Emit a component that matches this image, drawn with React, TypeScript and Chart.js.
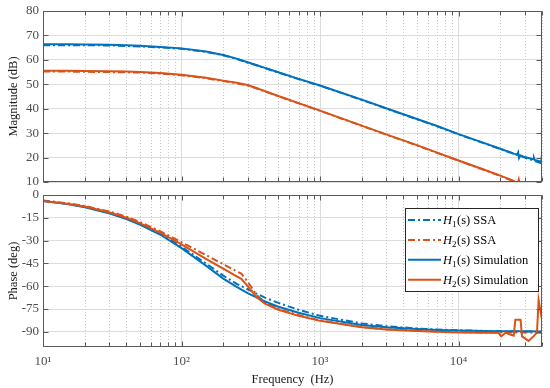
import React, { useEffect, useRef } from "react";
import { Chart, registerables } from "chart.js";

Chart.register(...registerables);

// ---------------- data ----------------
const FREQ = [10, 15, 20, 30, 40, 50, 70, 100, 150, 200, 250, 300, 350, 400, 500, 700, 1000, 2000, 3000, 5000, 7000, 10000, 15000, 20000];

// Magnitude (dB)
const magH1SimFreq = [...FREQ, 25000, 26500, 26900, 27300, 27900, 30000, 34500, 35000, 35500, 39500, 40000];
const magH1Sim = [66.4, 66.4, 66.3, 66.2, 66.0, 65.8, 65.3, 64.7, 63.4, 62.0, 60.5, 59.0, 57.8, 56.7, 54.9, 52.2, 49.5, 43.7, 40.2, 35.8, 32.9, 29.6, 26.1, 23.6, 21.6, 21.2, 22.1, 19.8, 20.9, 20.2, 19.3, 19.9, 19.0, 18.3, 21.5];
const magH2SimFreq = [...FREQ, 25000, 25700, 26800, 27200, 27600, 30000, 35000, 40000];
const magH2Sim = [55.5, 55.5, 55.4, 55.3, 55.2, 55.0, 54.6, 53.9, 52.7, 51.5, 50.6, 49.7, 48.4, 47.2, 45.2, 42.3, 39.2, 33.1, 29.5, 25.1, 22.0, 18.8, 15.2, 12.6, 10.5, 10.0, 9.6, 11.0, 9.4, 8.5, 7.2, 10.4];
const magSsaFreq = [...FREQ, 30000, 40000];
const magH1Ssa = [66.0, 66.0, 66.0, 65.9, 65.7, 65.5, 65.1, 64.5, 63.3, 61.9, 60.4, 58.9, 57.7, 56.6, 54.8, 52.1, 49.4, 43.6, 40.1, 35.7, 32.8, 29.5, 26.0, 23.5, 20.0, 17.6];
const magH2Ssa = [55.2, 55.2, 55.1, 55.0, 54.9, 54.8, 54.4, 53.7, 52.5, 51.3, 50.4, 49.5, 48.3, 47.1, 45.1, 42.2, 39.1, 33.0, 29.4, 25.0, 21.9, 18.7, 15.1, 12.5, 8.4, 5.8];

// Phase (deg)
const phH1Freq = [...FREQ, 30000, 40000];
const phH1Sim = [-4, -6, -8, -12, -15.8, -19.5, -26, -35, -46.5, -55, -60.5, -64.5, -67.5, -70, -73.5, -77.5, -81, -85.5, -87, -88.2, -88.8, -89.2, -89.5, -89.6, -89.7, -89.8];
const phH1Ssa = [-3.8, -5.8, -7.7, -11.5, -15.2, -18.8, -25.2, -34, -45, -53, -58.5, -62, -65, -67.5, -71, -75.5, -79.5, -84.5, -86.3, -87.8, -88.5, -89, -89.4, -89.6, -89.8, -89.9];
const phH2SimFreq = [10, 15, 20, 30, 40, 50, 70, 100, 150, 200, 250, 270, 300, 350, 400, 500, 700, 1000, 2000, 3000, 5000, 7000, 10000, 15000, 19400, 20300, 22000, 23000, 25000, 25700, 28000, 28700, 32000, 34700, 36800, 37800, 40000];
const phH2Sim = [-4, -5.8, -7.6, -11.4, -15, -18.5, -24.8, -32.5, -42, -48.5, -53.5, -55.2, -60, -67.5, -71.5, -75.5, -79.5, -82.8, -87, -88.5, -89.5, -90, -90.4, -90.6, -90.7, -93, -90.5, -91.5, -92.5, -82, -82, -93, -96, -93, -90.5, -69, -82];
const phH2SsaFreq = [10, 15, 20, 30, 40, 50, 70, 100, 150, 200, 250, 270, 300, 350, 400, 500, 700, 1000, 2000, 3000, 5000, 7000, 10000, 15000, 20000, 30000, 40000];
const phH2Ssa = [-3.6, -5.4, -7.2, -10.8, -14.2, -17.7, -23.8, -31, -39.5, -45.5, -50.2, -51.7, -57, -66, -70.5, -75, -79, -82.5, -86.8, -88.3, -89.3, -89.8, -90.2, -90.4, -90.5, -90.5, -90.6];

// labels / ticks
const SERIES_LABELS = ["H1(s) SSA", "H2(s) SSA", "H1(s) Simulation", "H2(s) Simulation"];
const X_MIN = 10;
const X_MAX = 40000;
const X_TICK_LABELS: Record<number, string> = { 10: "10¹", 100: "10²", 1000: "10³", 10000: "10⁴" };
const MAG_TICKS = [10, 20, 30, 40, 50, 60, 70, 80];
const PHASE_TICKS = [-90, -75, -60, -45, -30, -15, 0];
const MAG_TITLE = "Magnitude (dB)";
const PHASE_TITLE = "Phase (deg)";
const X_TITLE = "Frequency  (Hz)";

// ---------------- styles ----------------
const FONT = "'Liberation Serif', 'Times New Roman', Times, serif";
const BLUE = "#0072BD";
const RED = "#D95319";
const AXIS = "#4d4d4d";
const TITLE_COLOR = "#1a1a1a";
const BOX = "#5a5a5a";
const MAJOR_GRID = "#dcdcdc";
const MINOR_GRID = "#c8c8c8";
const SSA_DASH = [7, 3, 2, 3];
const COLORS = [BLUE, RED, BLUE, RED];
const DASHES = [SSA_DASH, SSA_DASH, [], []];

Chart.defaults.font.family = FONT;

const isDecade = (v: number) => Math.abs(Math.log10(v) - Math.round(Math.log10(v))) < 1e-9;

function logTicks(min: number, max: number) {
  const out: { value: number }[] = [];
  for (let e = Math.floor(Math.log10(min)); e <= Math.ceil(Math.log10(max)); e++) {
    for (let m = 1; m <= 9; m++) {
      const v = Math.round(m * Math.pow(10, e));
      if (v >= min && v <= max) out.push({ value: v });
    }
  }
  return out;
}

const pts = (xs: number[], ys: number[]) => xs.map((x, i) => ({ x, y: ys[i] }));

function ds(idx: number, xs: number[], ys: number[]) {
  return {
    label: SERIES_LABELS[idx],
    data: pts(xs, ys),
    borderColor: COLORS[idx],
    backgroundColor: COLORS[idx],
    borderWidth: 2,
    borderDash: DASHES[idx],
    pointRadius: 0,
    tension: 0,
    fill: false,
    clip: 0,
    order: 3 - idx,
  };
}

function xScale(showLabels: boolean) {
  return {
    type: "logarithmic",
    min: X_MIN,
    max: X_MAX,
    afterBuildTicks: (s: any) => {
      s.ticks = logTicks(X_MIN, X_MAX);
    },
    afterFit: (s: any) => {
      s.height = showLabels ? 41 : 8;
      s.paddingLeft = 0;
      s.paddingRight = 0;
    },
    grid: {
      color: (c: any) => (c.tick && isDecade(c.tick.value) ? MAJOR_GRID : "rgba(0,0,0,0)"),
      drawTicks: false,
      lineWidth: 1,
    },
    border: { display: false },
    ticks: {
      display: showLabels,
      autoSkip: false,
      maxRotation: 0,
      minRotation: 0,
      padding: 7,
      color: AXIS,
      font: { family: FONT, size: 13 },
      callback: (v: any) => X_TICK_LABELS[Number(v)] ?? "",
    },
    title: {
      display: showLabels,
      text: X_TITLE,
      color: TITLE_COLOR,
      font: { family: FONT, size: 12.5 },
      padding: { top: 0, bottom: 1 },
    },
  };
}

function yScale(min: number, max: number, ticks: number[], title: string) {
  return {
    type: "linear",
    min,
    max,
    afterBuildTicks: (s: any) => {
      s.ticks = ticks.map((v) => ({ value: v }));
    },
    afterFit: (s: any) => {
      s.width = 43;
      s.paddingTop = 0;
      s.paddingBottom = 0;
    },
    grid: { color: MAJOR_GRID, drawTicks: false, lineWidth: 1 },
    border: { display: false },
    ticks: {
      autoSkip: false,
      padding: 4,
      color: AXIS,
      font: { family: FONT, size: 13 },
      callback: (v: any) => String(v),
    },
    title: {
      display: true,
      text: title,
      color: TITLE_COLOR,
      font: { family: FONT, size: 12.5 },
      padding: { top: 6, bottom: 0 },
    },
  };
}

const framePlugin = {
  id: "bodeFrame",
  beforeDatasetsDraw(chart: any) {
    const { ctx, chartArea: a, scales } = chart;
    const xs = scales.x;
    ctx.save();
    ctx.strokeStyle = MINOR_GRID;
    ctx.lineWidth = 1;
    ctx.setLineDash([1, 2]);
    xs.ticks.forEach((t: any) => {
      if (isDecade(t.value)) return;
      const px = Math.round(xs.getPixelForValue(t.value)) + 0.5;
      ctx.beginPath();
      ctx.moveTo(px, a.top);
      ctx.lineTo(px, a.bottom);
      ctx.stroke();
    });
    ctx.restore();
  },
  afterDraw(chart: any) {
    const { ctx, chartArea: a, scales } = chart;
    const xs = scales.x;
    const ys = scales.y;
    ctx.save();
    ctx.strokeStyle = BOX;
    ctx.lineWidth = 1;
    ctx.setLineDash([]);
    const L = Math.round(a.left) + 0.5;
    const R = Math.round(a.right) - 0.5;
    const T = Math.round(a.top) + 0.5;
    const B = Math.round(a.bottom) - 0.5;
    ctx.beginPath();
    xs.ticks.forEach((t: any) => {
      const px = Math.round(xs.getPixelForValue(t.value)) + 0.5;
      const len = isDecade(t.value) ? 5 : 4;
      ctx.moveTo(px, B);
      ctx.lineTo(px, B - len);
      ctx.moveTo(px, T);
      ctx.lineTo(px, T + len);
    });
    ys.ticks.forEach((t: any) => {
      const py = Math.round(ys.getPixelForValue(t.value)) + 0.5;
      ctx.moveTo(L, py);
      ctx.lineTo(L + 5, py);
      ctx.moveTo(R, py);
      ctx.lineTo(R - 5, py);
    });
    ctx.stroke();
    ctx.strokeRect(L, T, R - L, B - T);
    ctx.restore();
  },
};

const legendPlugin = {
  id: "bodeLegend",
  afterDraw(chart: any) {
    const { ctx, chartArea: a } = chart;
    const dsets = chart.data.datasets;
    const w = 133;
    const h = 83;
    const x0 = Math.round(a.right - 4 - w);
    const y0 = Math.round(a.top + 13);
    ctx.save();
    ctx.fillStyle = "#ffffff";
    ctx.fillRect(x0, y0, w, h);
    ctx.strokeStyle = "#262626";
    ctx.lineWidth = 1;
    ctx.strokeRect(x0 + 0.5, y0 + 0.5, w, h);
    dsets.forEach((d: any, i: number) => {
      const cy = y0 + 12 + i * 19.9;
      ctx.save();
      ctx.strokeStyle = d.borderColor;
      ctx.lineWidth = 2;
      ctx.setLineDash(d.borderDash || []);
      ctx.beginPath();
      ctx.moveTo(x0 + 3, cy);
      ctx.lineTo(x0 + 36, cy);
      ctx.stroke();
      ctx.restore();
      const label: string = d.label;
      const base = cy + 4;
      let x = x0 + 38;
      ctx.fillStyle = "#000";
      ctx.textBaseline = "alphabetic";
      ctx.textAlign = "left";
      ctx.font = `italic 12.5px ${FONT}`;
      ctx.fillText(label[0], x, base);
      x += ctx.measureText(label[0]).width;
      ctx.font = `9px ${FONT}`;
      ctx.fillText(label[1], x, base + 3);
      x += ctx.measureText(label[1]).width + 0.5;
      ctx.font = `12.5px ${FONT}`;
      ctx.fillText(label.slice(2), x, base);
    });
    ctx.restore();
  },
};

export default function App() {
  const topRef = useRef<HTMLCanvasElement>(null);
  const botRef = useRef<HTMLCanvasElement>(null);

  useEffect(() => {
    const common = {
      animation: false,
      responsive: false,
      events: [],
      plugins: { legend: { display: false }, tooltip: { enabled: false } },
    };
    const top = new Chart(topRef.current as HTMLCanvasElement, {
      type: "line",
      data: {
        datasets: [
          ds(0, magSsaFreq, magH1Ssa),
          ds(1, magSsaFreq, magH2Ssa),
          ds(2, magH1SimFreq, magH1Sim),
          ds(3, magH2SimFreq, magH2Sim),
        ],
      },
      options: {
        ...common,
        layout: { padding: { left: 0, right: 8, top: 11, bottom: 0 } },
        scales: { x: xScale(false), y: yScale(10, 80, MAG_TICKS, MAG_TITLE) },
      } as any,
      plugins: [framePlugin],
    });
    const bot = new Chart(botRef.current as HTMLCanvasElement, {
      type: "line",
      data: {
        datasets: [
          ds(0, phH1Freq, phH1Ssa),
          ds(1, phH2SsaFreq, phH2Ssa),
          ds(2, phH1Freq, phH1Sim),
          ds(3, phH2SimFreq, phH2Sim),
        ],
      },
      options: {
        ...common,
        layout: { padding: { left: 0, right: 8, top: 5, bottom: 0 } },
        scales: { x: xScale(true), y: yScale(-100, 0, PHASE_TICKS, PHASE_TITLE) },
      } as any,
      plugins: [framePlugin, legendPlugin],
    });
    return () => {
      top.destroy();
      bot.destroy();
    };
  }, []);

  return (
    <div style={{ position: "fixed", left: 0, top: 0, width: 550, height: 388, background: "#fff" }}>
      <canvas ref={topRef} width={550} height={190} style={{ position: "absolute", left: 0, top: 0 }} />
      <canvas ref={botRef} width={550} height={198} style={{ position: "absolute", left: 0, top: 190 }} />
    </div>
  );
}
